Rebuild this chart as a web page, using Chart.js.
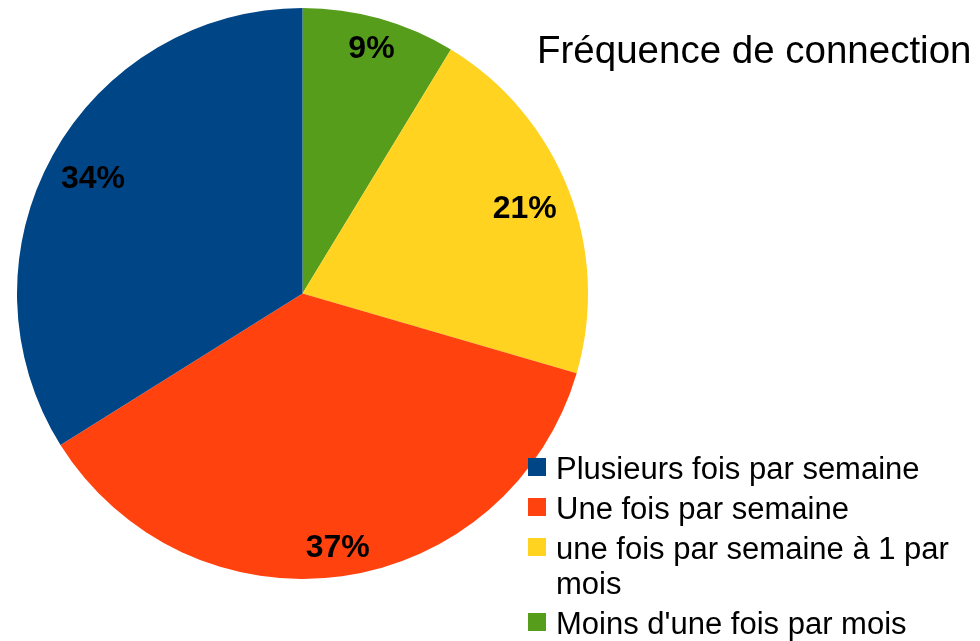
<!DOCTYPE html>
<html lang="fr">

<head>
    <meta charset="UTF-8">
    <title>Fréquence de connection</title>
    <script src="https://cdn.jsdelivr.net/npm/chart.js"></script>
    <style>
        body {
            margin: 0;
            background: #fff;
            font-family: "Liberation Sans", Arial, sans-serif;
        }

        .wrap {
            position: relative;
            width: 980px;
            height: 641px;
            overflow: hidden;
        }

        #pie {
            position: absolute;
            left: 0;
            top: 0;
        }

        .title {
            position: absolute;
            left: 537px;
            top: 31px;
            font-size: 38.5px;
            line-height: 38px;
            color: #000;
            white-space: nowrap;
        }

        #legend {
            position: absolute;
            left: 528px;
            top: 451px;
            margin: 0;
            padding: 0;
            list-style: none;
        }

        #legend li {
            display: flex;
            align-items: flex-start;
            margin-bottom: 5px;
        }

        #legend .box {
            width: 18px;
            height: 18px;
            margin-top: 7px;
            margin-right: 10px;
            flex: none;
        }

        #legend .txt {
            font-size: 31px;
            line-height: 35px;
            max-width: 415px;
        }
    </style>
</head>

<body>
    <div class="wrap">
        <canvas id="pie" width="980" height="641"></canvas>
        <div class="title">Fréquence de connection</div>
        <ul id="legend"></ul>
    </div>

    <script>
        // slices in drawing order (clockwise from 12 o'clock)
        const categories = [
            "Moins d'une fois par mois",
            "une fois par semaine à 1 par mois",
            "Une fois par semaine",
            "Plusieurs fois par semaine"
        ];
        const values = [8.7, 20.8, 36.6, 33.9];
        const colors = ['#579d1c', '#ffd320', '#ff420e', '#004586'];

        // percent labels drawn inside each slice, pushed out towards the rim
        const sliceLabels = {
            id: 'sliceLabels',
            afterDatasetsDraw(chart) {
                const ctx = chart.ctx;
                const total = values.reduce((a, b) => a + b, 0);
                ctx.save();
                ctx.font = 'bold 32px "Liberation Sans", Arial, sans-serif';
                ctx.fillStyle = '#000';
                ctx.textAlign = 'center';
                ctx.textBaseline = 'middle';
                chart.getDatasetMeta(0).data.forEach((arc, i) => {
                    const p = arc.getProps(['x', 'y', 'startAngle', 'endAngle', 'outerRadius'], true);
                    const mid = (p.startAngle + p.endAngle) / 2;
                    const txt = Math.round(values[i] / total * 100) + '%';
                    const w = ctx.measureText(txt).width;
                    const h = 23;
                    const limit = p.outerRadius - 12;
                    let r = limit;
                    // step inwards until the text box sits inside the circle
                    while (r > 0) {
                        const cx = Math.abs(Math.cos(mid) * r) + w / 2;
                        const cy = Math.abs(Math.sin(mid) * r) + h / 2;
                        if (Math.sqrt(cx * cx + cy * cy) <= limit) break;
                        r -= 1;
                    }
                    ctx.fillText(txt, p.x + Math.cos(mid) * r, p.y + Math.sin(mid) * r + 2);
                });
                ctx.restore();
            }
        };

        const chart = new Chart(document.getElementById('pie'), {
            type: 'pie',
            data: {
                labels: categories,
                datasets: [{
                    data: values,
                    backgroundColor: colors,
                    borderWidth: 0
                }]
            },
            options: {
                responsive: false,
                animation: false,
                layout: {
                    padding: { left: 17, top: 8, right: 392, bottom: 62 }
                },
                plugins: {
                    legend: { display: false },
                    tooltip: { enabled: false }
                }
            },
            plugins: [sliceLabels]
        });

        // legend is listed in the reverse of the drawing order
        const legend = document.getElementById('legend');
        for (let i = categories.length - 1; i >= 0; i--) {
            const li = document.createElement('li');
            li.innerHTML = '<span class="box" style="background:' + colors[i] + '"></span>' +
                '<span class="txt">' + categories[i] + '</span>';
            legend.appendChild(li);
        }
    </script>
</body>

</html>
